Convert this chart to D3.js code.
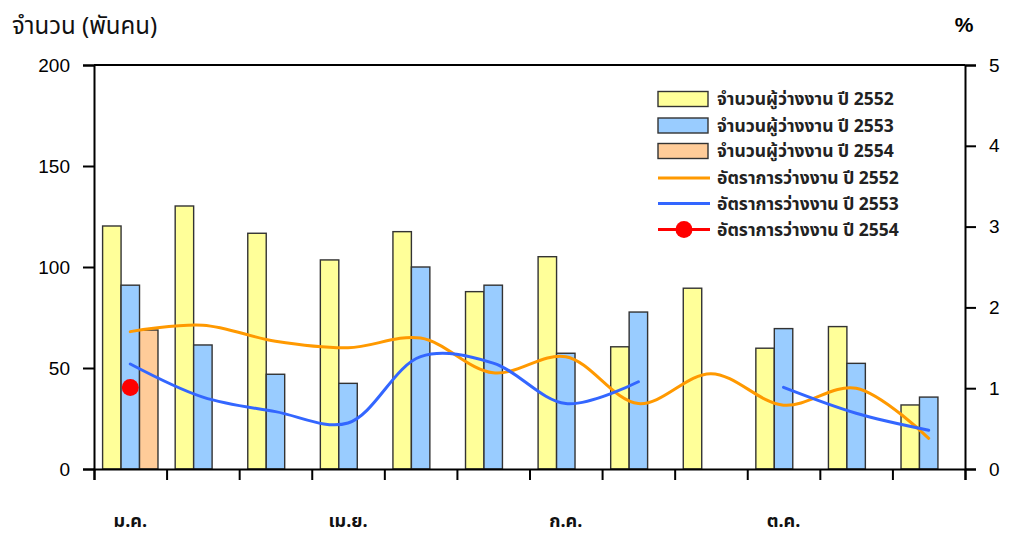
<!DOCTYPE html>
<html><head><meta charset="utf-8">
<script src="https://cdn.jsdelivr.net/npm/d3@7"></script>
<style>
body{margin:0;background:#fff;}
svg{display:block;}
.thai{font-family:"Noto Sans Thai","Noto Sans Thai Looped","Noto Serif Thai","DejaVu Sans",sans-serif;}
.num{font-family:Arial,"Liberation Sans",sans-serif;}
</style>
</head><body>
<svg id="c" width="1013" height="539"></svg>
<script>
const months = ["ม.ค.","ก.พ.","มี.ค.","เม.ย.","พ.ค.","มิ.ย.","ก.ค.","ส.ค.","ก.ย.","ต.ค.","พ.ย.","ธ.ค."];
const monthLabels = ["ม.ค.","","","เม.ย.","","","ก.ค.","","","ต.ค.","",""];
const barSeries = ["2552","2553","2554"];
const unemp2552 = [120.3,130.2,116.7,103.5,117.5,87.8,105.1,60.5,89.5,59.8,70.5,31.7];
const unemp2553 = [91,61.4,46.9,42.4,100,91,57.3,77.7,null,69.5,52.3,35.6];
const unemp2554 = [68.8,null,null,null,null,null,null,null,null,null,null,null];
const rate2552 = [1.70,1.78,1.58,1.50,1.62,1.19,1.39,0.81,1.18,0.79,1.00,0.38];
const rate2553 = [1.30,0.89,0.71,0.57,1.39,1.31,0.81,1.08,null,1.01,0.69,0.48];
const rate2554 = [1.01,null,null,null,null,null,null,null,null,null,null,null];
const leftTicks = [0,50,100,150,200];
const rightTicks = [0,1,2,3,4,5];
const legendLabels = ["จำนวนผู้ว่างงาน ปี 2552","จำนวนผู้ว่างงาน ปี 2553","จำนวนผู้ว่างงาน ปี 2554","อัตราการว่างงาน ปี 2552","อัตราการว่างงาน ปี 2553","อัตราการว่างงาน ปี 2554"];

const barColors = ["#FFFF99","#99CCFF","#FFCC99"];
const lineColors = ["#FF9900","#3366FF","#FF0000"];

const svg = d3.select("#c");
const L=94, R=965, T=65, B=469;
const x0 = d3.scaleBand().domain(months).range([L,R]).padding(0);
const bw = x0.bandwidth();
const x1 = d3.scaleBand().domain(barSeries).range([8.6,bw-8.6]).padding(0);
const yL = d3.scaleLinear().domain([0,200]).range([B,T]);
const yR = d3.scaleLinear().domain([0,5]).range([B,T]);
const xEdge = d3.scaleLinear().domain([0,12]).range([L,R]);

// bars
const barData = [unemp2552,unemp2553,unemp2554];
barData.forEach((arr,si)=>{
  svg.append("g").selectAll("rect").data(arr.map((v,i)=>({v,m:months[i]})).filter(d=>d.v!=null))
    .join("rect")
    .attr("x",d=>x0(d.m)+x1(barSeries[si]))
    .attr("width",x1.bandwidth())
    .attr("y",d=>yL(d.v))
    .attr("height",d=>B-yL(d.v))
    .attr("fill",barColors[si])
    .attr("stroke","#333").attr("stroke-width",1.4);
});

// lines
const cx = m=>x0(m)+bw/2;
const line = d3.line().defined(d=>d.v!=null).x(d=>cx(d.m)).y(d=>yR(d.v)).curve(d3.curveCatmullRom.alpha(0.5));
[rate2552,rate2553].forEach((arr,si)=>{
  const data = arr.map((v,i)=>({v,m:months[i]}));
  svg.append("path").datum(data).attr("d",line).attr("fill","none")
    .attr("stroke",lineColors[si]).attr("stroke-width",3).attr("stroke-linejoin","round").attr("stroke-linecap","round");
});
svg.append("g").selectAll("circle").data(rate2554.map((v,i)=>({v,m:months[i]})).filter(d=>d.v!=null))
  .join("circle").attr("cx",d=>cx(d.m)).attr("cy",d=>yR(d.v)).attr("r",8.5).attr("fill","#FF0000");

// frame top
svg.append("line").attr("x1",L).attr("x2",R).attr("y1",T).attr("y2",T).attr("stroke","#000").attr("stroke-width",2);

// left axis
const gL = svg.append("g").attr("transform",`translate(${L},0)`)
  .call(d3.axisLeft(yL).tickValues(leftTicks).tickSize(11).tickPadding(13));
gL.selectAll("text").attr("class","num").style("font-size","19px").attr("fill","#000");
// right axis
const gR = svg.append("g").attr("transform",`translate(${R},0)`)
  .call(d3.axisRight(yR).tickValues(rightTicks).tickFormat(d3.format("d")).tickSize(11).tickPadding(13));
gR.selectAll("text").attr("class","num").style("font-size","19px").attr("fill","#000");
// bottom ticks
const gB = svg.append("g").attr("transform",`translate(0,${B})`)
  .call(d3.axisBottom(xEdge).tickValues(d3.range(13)).tickSize(11).tickFormat(""));
// month labels
const gM = svg.append("g").attr("transform",`translate(0,${B})`)
  .call(d3.axisBottom(x0).tickSize(0).tickPadding(45).tickFormat((d,i)=>monthLabels[i]));
gM.select(".domain").remove();
gM.selectAll("text").attr("class","thai").style("font-size","18px").style("font-weight","bold").attr("fill","#111");
[gL,gR,gB].forEach(g=>{g.selectAll("path,line").attr("stroke","#000").attr("stroke-width",2);});

// titles
svg.append("text").attr("class","thai").attr("x",12).attr("y",34).style("font-size","24px").attr("fill","#111").text("จำนวน (พันคน)");
svg.append("text").attr("class","num").attr("x",964).attr("y",32).attr("text-anchor","middle").style("font-size","21px").style("font-weight","bold").attr("fill","#000").text("%");

// legend
const lg = svg.append("g");
const rowY = [99,125.5,151,178,203.5,229.5];
legendLabels.forEach((t,i)=>{
  if(i<3){
    lg.append("rect").attr("x",658).attr("y",rowY[i]-7.5).attr("width",50).attr("height",15)
      .attr("fill",barColors[i]).attr("stroke","#333").attr("stroke-width",1.4);
  } else {
    lg.append("line").attr("x1",658).attr("x2",710).attr("y1",rowY[i]).attr("y2",rowY[i])
      .attr("stroke",lineColors[i-3]).attr("stroke-width",3);
    if(i===5) lg.append("circle").attr("cx",684).attr("cy",rowY[i]).attr("r",8.5).attr("fill","#FF0000");
  }
  lg.append("text").attr("class","thai").attr("x",717).attr("y",rowY[i]).attr("dy","0.35em")
    .style("font-size","17.5px").style("font-weight","bold").attr("fill","#222").text(t);
});
</script>
</body></html>
